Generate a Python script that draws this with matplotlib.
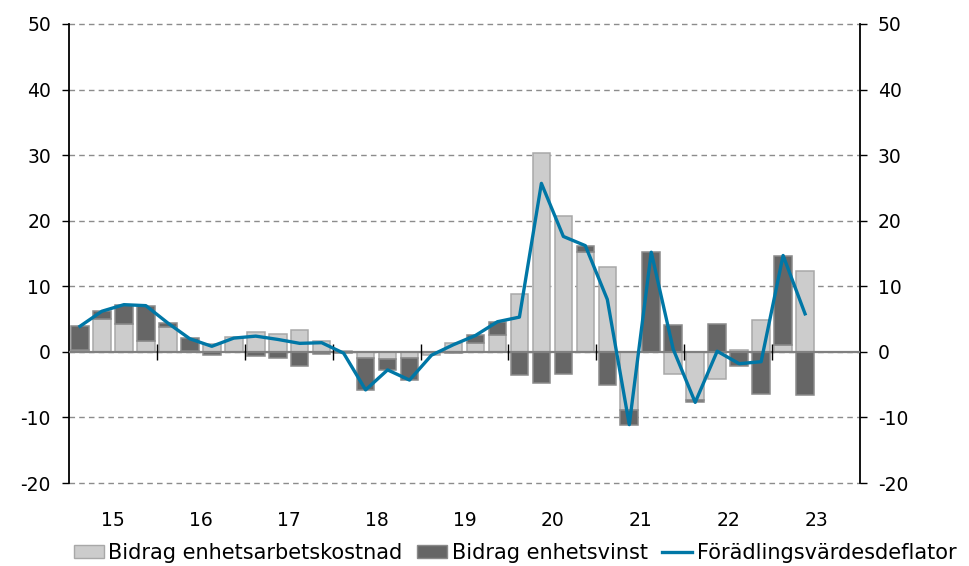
import numpy as np
import matplotlib.pyplot as plt
from matplotlib.patches import Patch
from matplotlib.lines import Line2D

# quarterly data 2015Q1 - 2023Q2
years = ['15', '16', '17', '18', '19', '20', '21', '22', '23']

labour_cost = [0.35, 5.0, 4.2, 1.6,
               3.8, 0.1, 1.2, 2.2,
               3.0, 2.7, 3.4, 1.7,
               0.1, -0.9, -1.1, -1.0,
               -0.5, 1.3, 1.3, 2.6,
               8.8, 30.4, 20.7, 15.3,
               13.0, -8.8, 0.0, -3.4,
               -7.3, -4.2, 0.3, 4.9,
               1.0, 12.4]

profit = [3.65, 1.25, 2.9, 5.4,
          0.6, 2.0, -0.5, 0.0,
          -0.6, -0.9, -2.2, -0.3,
          -0.2, -4.9, -1.6, -3.3,
          0.0, -0.2, 1.2, 2.0,
          -3.6, -4.7, -3.3, 0.9,
          -5.1, -2.3, 15.2, 4.1,
          -0.4, 4.2, -2.1, -6.4,
          13.6, -6.6]

deflator = [3.9, 6.2, 7.2, 7.05,
            4.4, 2.0, 0.85, 2.1,
            2.4, 1.9, 1.3, 1.4,
            -0.2, -5.8, -2.75, -4.3,
            -0.5, 1.1, 2.5, 4.6,
            5.3, 25.7, 17.6, 16.2,
            8.0, -11.1, 15.2, 0.4,
            -7.7, 0.1, -1.8, -1.5,
            14.7, 5.8]

labels = ['Bidrag enhetsarbetskostnad', 'Bidrag enhetsvinst', 'Förädlingsvärdesdeflator']

light = '#CCCCCC'
dark = '#666666'
blue = '#0077A6'

plt.rcParams['font.family'] = ['DejaVu Sans']
plt.rcParams['font.size'] = 13.5
plt.rcParams['axes.unicode_minus'] = False

lc = np.array(labour_cost)
pr = np.array(profit)
x = np.arange(len(lc))
# stack dark on top of light when same sign, otherwise start at zero
bottom = np.where(np.sign(pr) == np.sign(lc), lc, 0)

fig = plt.figure(figsize=(9.7, 5.66), dpi=100)
ax = fig.add_axes([0.0711, 0.1466, 0.8155, 0.811])

ax.bar(x, lc, width=0.8, color=light, edgecolor='#A8A8A8', linewidth=1.1, zorder=3)
ax.bar(x, pr, width=0.8, bottom=bottom, color=dark, edgecolor='#8A8A8A', linewidth=1.1, zorder=3)
ax.plot(x, deflator, color=blue, linewidth=2.4, zorder=5)

nyears = len(years)
ax.set_xlim(-0.5, nyears * 4 - 0.5)
ax.set_ylim(-20, 50)
ax.set_yticks(np.arange(-20, 51, 10))
ax.yaxis.grid(True, color='#8C8C8C', linestyle=(0, (4, 3)), linewidth=1.0, zorder=0)
for gl in ax.get_ygridlines():
    gl.set_clip_on(False)

# zero line with year boundary ticks
ax.axhline(0, color='#808080', linewidth=1.6, zorder=4)
bounds = np.arange(1, nyears) * 4 - 0.5
ax.vlines(bounds, -1.2, 1.2, color='black', linewidth=1.0, zorder=4)

ax.set_xticks(np.arange(nyears) * 4 + 1.5)
ax.set_xticklabels(years)
ax.tick_params(axis='x', length=0, pad=20)
ax.tick_params(axis='y', which='both', direction='out', length=5, width=1,
               left=True, right=True, labelleft=True, labelright=True, pad=8)

for s in ['top', 'bottom']:
    ax.spines[s].set_visible(False)
for s in ['left', 'right']:
    ax.spines[s].set_color('black')
    ax.spines[s].set_linewidth(1.3)

handles = [Patch(facecolor=light, edgecolor='#A8A8A8'),
           Patch(facecolor=dark, edgecolor='#8A8A8A'),
           Line2D([0], [0], color=blue, linewidth=2.4)]
fig.legend(handles, labels, loc='center', bbox_to_anchor=(0.531, 0.023), ncol=3,
           frameon=False, fontsize=15, handlelength=1.45, handleheight=0.6,
           handletextpad=0.2, columnspacing=0.7, borderaxespad=0, borderpad=0)

fig.savefig('out.png', dpi=100)
